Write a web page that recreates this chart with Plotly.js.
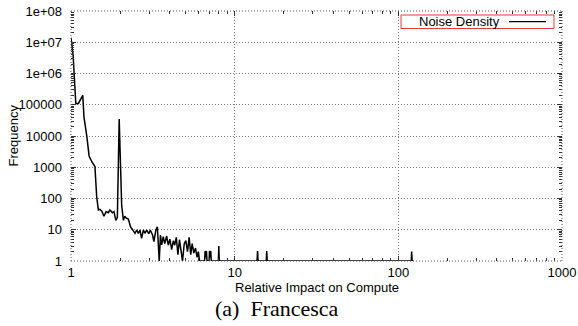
<!DOCTYPE html>
<html>
<head>
<meta charset="utf-8">
<script src="https://cdn.plot.ly/plotly-3.0.1.min.js"></script>
<style>
  html, body { margin: 0; padding: 0; background: #fff; }
  #chart { width: 578px; height: 326px; }
</style>
</head>
<body>
<div id="chart"></div>
<script>
// Noise density histogram: relative impact on compute vs. frequency
const impact = [
  1.00, 1.03, 1.07, 1.11, 1.18, 1.20, 1.25, 1.29, 1.34, 1.40, 1.436, 1.47,
  1.50, 1.54, 1.59, 1.64, 1.69, 1.73, 1.79, 1.83, 1.88, 1.92, 1.97, 2.04,
  2.09, 2.13, 2.17, 2.24, 2.31, 2.38, 2.46, 2.52, 2.58, 2.64, 2.70, 2.77,
  2.83, 2.90, 2.99, 3.05, 3.15, 3.21, 3.30, 3.37, 3.46, 3.52, 3.58, 3.66,
  3.74, 3.84, 3.93, 4.02, 4.12, 4.22, 4.30, 4.40, 4.50, 4.60, 4.70, 4.80,
  4.92, 5.03, 5.15, 5.27, 5.39, 5.50, 5.63, 5.76, 5.90, 6.00, 6.10, 6.30,
  6.55, 6.60, 6.65, 6.72, 6.78, 6.98, 7.02, 7.08, 7.14, 7.20, 7.95, 8.00,
  8.05, 13.7, 13.8, 13.9, 15.6, 15.7, 15.8, 120.0, 120.6, 121.5, 124.0
];
const frequency = [
  14000000, 3900000, 110000, 110000, 200000, 41000, 9500, 2300, 1500, 1050, 110, 43,
  45, 40, 27, 38, 35, 43, 35, 38, 20, 25, 35000, 60,
  20, 27, 24, 22, 12.5, 9.8, 7.7, 9.8, 7.7, 9.8, 5.3, 9.8,
  7.7, 9.8, 7.5, 9.8, 6.8, 4.2, 9.8, 12.5, 1, 6.8, 3.3, 6,
  3.6, 6.3, 3.2, 5, 2.3, 4.5, 3.2, 5.7, 1.6, 4.8, 2.3, 1,
  3.6, 4.5, 2, 5.7, 1.6, 3.6, 1.8, 2.6, 1.3, 2, 1, 1,
  1, 2.1, 1.3, 2.1, 1, 1, 2.1, 1.3, 2.1, 1, 1, 3,
  1, 1, 2.1, 1, 1, 2.1, 1, 1, 2, 1, 1
];

const xTickVals = [1, 10, 100, 1000];
const xTickText = ['1', '10', '100', '1000'];
const yTickVals = [1, 10, 100, 1000, 10000, 100000, 1e6, 1e7, 1e8];
const yTickText = ['1', '10', '100', '1000', '10000', '100000', '1e+06', '1e+07', '1e+08'];

// plot area in pixels
const W = 578, H = 326;
const L = 71, R = 562, T = 11, B = 261;
const px = v => (v - L) / (R - L);
const py = v => (B - v) / (B - T);

function minorVals(lo, hi) {
  const out = [];
  for (let d = lo; d < hi; d++) {
    for (let k = 2; k <= 9; k++) out.push(k * Math.pow(10, d));
  }
  return out;
}

const font = { family: 'Liberation Sans, Arial, sans-serif', size: 13, color: '#000' };
const gridColor = '#7a7a7a';
const fineDot = '1px,2px';

const axisCommon = {
  type: 'log',
  tickmode: 'array',
  ticks: 'inside',
  ticklen: 5,
  tickwidth: 1,
  tickcolor: '#333',
  mirror: 'ticks',
  showline: false,
  zeroline: false,
  showgrid: true,
  gridcolor: gridColor,
  griddash: fineDot,
  gridwidth: 1,
  tickfont: font
};

const frameLine = { color: '#555', width: 1, dash: fineDot };

const layout = {
  width: W, height: H,
  margin: { l: L, r: W - R, t: T, b: H - B, pad: 0 },
  paper_bgcolor: '#fff',
  plot_bgcolor: '#fff',
  showlegend: false,
  xaxis: Object.assign({}, axisCommon, {
    range: [0, 3],
    tickvals: xTickVals,
    ticktext: xTickText,
    ticklabelstandoff: 2,
    minor: { tickmode: 'array', tickvals: minorVals(0, 3), ticks: 'inside', ticklen: 3, tickcolor: '#333', showgrid: false }
  }),
  yaxis: Object.assign({}, axisCommon, {
    range: [0, 8],
    tickvals: yTickVals,
    ticktext: yTickText,
    ticklabelstandoff: 8,
    minor: { tickmode: 'array', tickvals: minorVals(0, 8), ticks: 'inside', ticklen: 3, tickcolor: '#333', showgrid: false }
  }),
  shapes: [
    // dotted frame
    { type: 'line', xref: 'paper', yref: 'paper', x0: 0, x1: 1, y0: 0, y1: 0, line: frameLine },
    { type: 'line', xref: 'paper', yref: 'paper', x0: 0, x1: 1, y0: 1, y1: 1, line: frameLine },
    { type: 'line', xref: 'paper', yref: 'paper', x0: 0, x1: 0, y0: 0, y1: 1, line: frameLine },
    { type: 'line', xref: 'paper', yref: 'paper', x0: 1, x1: 1, y0: 0, y1: 1, line: frameLine },
    // legend box and sample line
    { type: 'rect', xref: 'paper', yref: 'paper', x0: px(401), x1: px(554), y0: py(28.5), y1: py(15),
      line: { color: '#e8383d', width: 1 }, fillcolor: '#fff', layer: 'above' },
    { type: 'line', xref: 'paper', yref: 'paper', x0: px(509), x1: px(546), y0: py(21.7), y1: py(21.7),
      line: { color: '#000', width: 1.2 }, layer: 'above' }
  ],
  annotations: [
    { xref: 'paper', yref: 'paper', x: px(502), y: py(21.7), xanchor: 'right', yanchor: 'middle',
      text: 'Noise Density', showarrow: false, font: font },
    { xref: 'paper', yref: 'paper', x: px(316.5), y: py(287.3), xanchor: 'center', yanchor: 'middle',
      text: 'Relative Impact on Compute', showarrow: false, font: font },
    { xref: 'paper', yref: 'paper', x: px(12.5), y: py(136), xanchor: 'center', yanchor: 'middle',
      text: 'Frequency', textangle: -90, showarrow: false, font: font },
    { xref: 'paper', yref: 'paper', x: px(277), y: py(308), xanchor: 'center', yanchor: 'middle',
      text: '(a)\u2002Francesca', showarrow: false,
      font: { family: 'Liberation Serif, Times New Roman, serif', size: 22, color: '#000' } }
  ]
};

const trace = {
  x: impact,
  y: frequency,
  type: 'scatter',
  mode: 'lines',
  name: 'Noise Density',
  line: { color: '#000', width: 1.5 },
  cliponaxis: true
};

Plotly.newPlot('chart', [trace], layout, { staticPlot: true, displayModeBar: false });
</script>
</body>
</html>
